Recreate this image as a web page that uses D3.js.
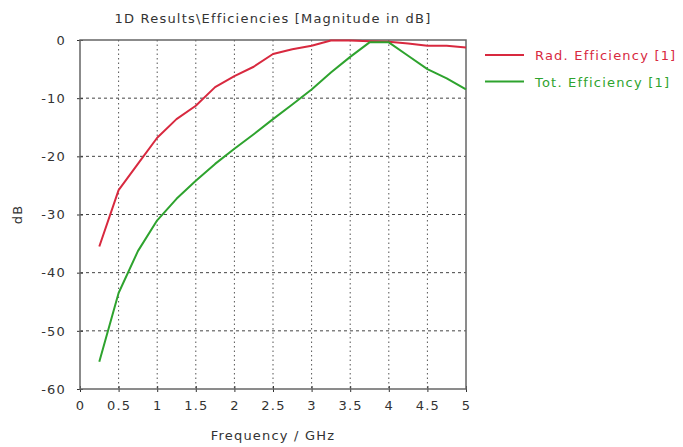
<!DOCTYPE html>
<html>
<head>
<meta charset="utf-8">
<script src="https://cdn.jsdelivr.net/npm/d3@7"></script>
<style>
  body { margin: 0; background: #fff; }
  svg { display: block; font-family: "DejaVu Sans", sans-serif; }
  text { letter-spacing: 1.2px; }
</style>
</head>
<body>
<svg id="chart" width="683" height="447"></svg>
<script>
// frequency samples (GHz)
const freqs = [0.25, 0.5, 0.75, 1.0, 1.25, 1.5, 1.75, 2.0, 2.25, 2.5,
               2.75, 3.0, 3.25, 3.5, 3.75, 4.0, 4.25, 4.5, 4.75, 5.0];
// efficiencies in dB
const radEff = [-35.5, -25.8, -21.3, -16.8, -13.6, -11.3, -8.1, -6.2, -4.6, -2.4,
                -1.6, -1.0, -0.1, -0.1, -0.2, -0.3, -0.6, -1.0, -1.0, -1.3];
const totEff = [-55.3, -43.5, -36.3, -31.0, -27.3, -24.2, -21.3, -18.7, -16.2, -13.6,
                -11.1, -8.5, -5.6, -2.9, -0.4, -0.4, -2.7, -5.0, -6.6, -8.5];
const seriesNames = ['Rad. Efficiency [1]', 'Tot. Efficiency [1]'];
const xTicks = [0, 0.5, 1, 1.5, 2, 2.5, 3, 3.5, 4, 4.5, 5];
const yTicks = [0, -10, -20, -30, -40, -50, -60];

const colors = ['#d8293f', '#2ea32e'];
const margin = {left: 80, right: 217, top: 40, bottom: 58};
const width = 683, height = 447;
const fontSize = 13;

const svg = d3.select('#chart');
const x = d3.scaleLinear().domain([0, 5]).range([margin.left, width - margin.right]);
const y = d3.scaleLinear().domain([-60, 0]).range([height - margin.bottom, margin.top]);

// grid
const grid = svg.append('g').attr('class', 'grid');
grid.selectAll('line.v').data(xTicks.slice(1, -1)).enter().append('line')
  .attr('x1', d => x(d)).attr('x2', d => x(d))
  .attr('y1', y(0)).attr('y2', y(-60))
  .attr('stroke', '#555').attr('stroke-width', 1)
  .attr('stroke-dasharray', '1.5,3');
grid.selectAll('line.h').data(yTicks.slice(1, -1)).enter().append('line')
  .attr('y1', d => y(d)).attr('y2', d => y(d))
  .attr('x1', x(0)).attr('x2', x(5))
  .attr('stroke', '#444').attr('stroke-width', 1)
  .attr('stroke-dasharray', '3,3');

// axes
let xAxis = d3.axisBottom(x).tickValues(xTicks).tickSize(3).tickPadding(9)
  .tickFormat(d => d);
let yAxis = d3.axisLeft(y).tickValues(yTicks).tickSize(3).tickPadding(11)
  .tickFormat(d => d);

let gx = svg.append('g').attr('transform', 'translate(0,' + y(-60) + ')').call(xAxis);
let gy = svg.append('g').attr('transform', 'translate(' + x(0) + ',0)').call(yAxis);
[gx, gy].forEach(g => {
  g.select('.domain').remove();
  g.selectAll('.tick line').attr('stroke', '#333');
  g.selectAll('.tick text').attr('font-size', fontSize).attr('fill', '#333')
    .attr('font-family', '"DejaVu Sans", sans-serif');
});
gx.selectAll('.tick line').attr('y1', -3).attr('y2', 3);
gy.selectAll('.tick line').attr('x1', -3).attr('x2', 3);

// frame
svg.append('rect')
  .attr('x', x(0)).attr('y', y(0))
  .attr('width', x(5) - x(0)).attr('height', y(-60) - y(0))
  .attr('fill', 'none').attr('stroke', '#666').attr('stroke-width', 1.5);

// curves
const line = d3.line().x(d => x(d[0])).y(d => y(d[1]));
[radEff, totEff].forEach((vals, i) => {
  svg.append('path')
    .datum(freqs.map((f, k) => [f, vals[k]]))
    .attr('d', line)
    .attr('fill', 'none')
    .attr('stroke', colors[i])
    .attr('stroke-width', 2)
    .attr('stroke-linejoin', 'round');
});

// titles
svg.append('text')
  .attr('x', (x(0) + x(5)) / 2).attr('y', 23)
  .attr('text-anchor', 'middle').attr('font-size', fontSize).attr('fill', '#333')
  .text('1D Results\\Efficiencies [Magnitude in dB]');
svg.append('text')
  .attr('x', (x(0) + x(5)) / 2).attr('y', 440)
  .attr('text-anchor', 'middle').attr('font-size', fontSize).attr('fill', '#333')
  .text('Frequency / GHz');
svg.append('text')
  .attr('transform', 'translate(22,' + y(-30) + ') rotate(-90)')
  .attr('text-anchor', 'middle').attr('font-size', fontSize).attr('fill', '#333')
  .text('dB');

// legend
let legend = svg.append('g').attr('class', 'legend')
  .attr('transform', 'translate(485,55)');
seriesNames.forEach((name, i) => {
  let g = legend.append('g').attr('transform', 'translate(0,' + i * 26.5 + ')');
  g.append('line').attr('x1', 0).attr('x2', 39).attr('y1', 0).attr('y2', 0)
    .attr('stroke', colors[i]).attr('stroke-width', 1.8);
  g.append('text').attr('x', 50).attr('y', 5)
    .attr('font-size', fontSize).attr('fill', colors[i])
    .text(name);
});
</script>
</body>
</html>
